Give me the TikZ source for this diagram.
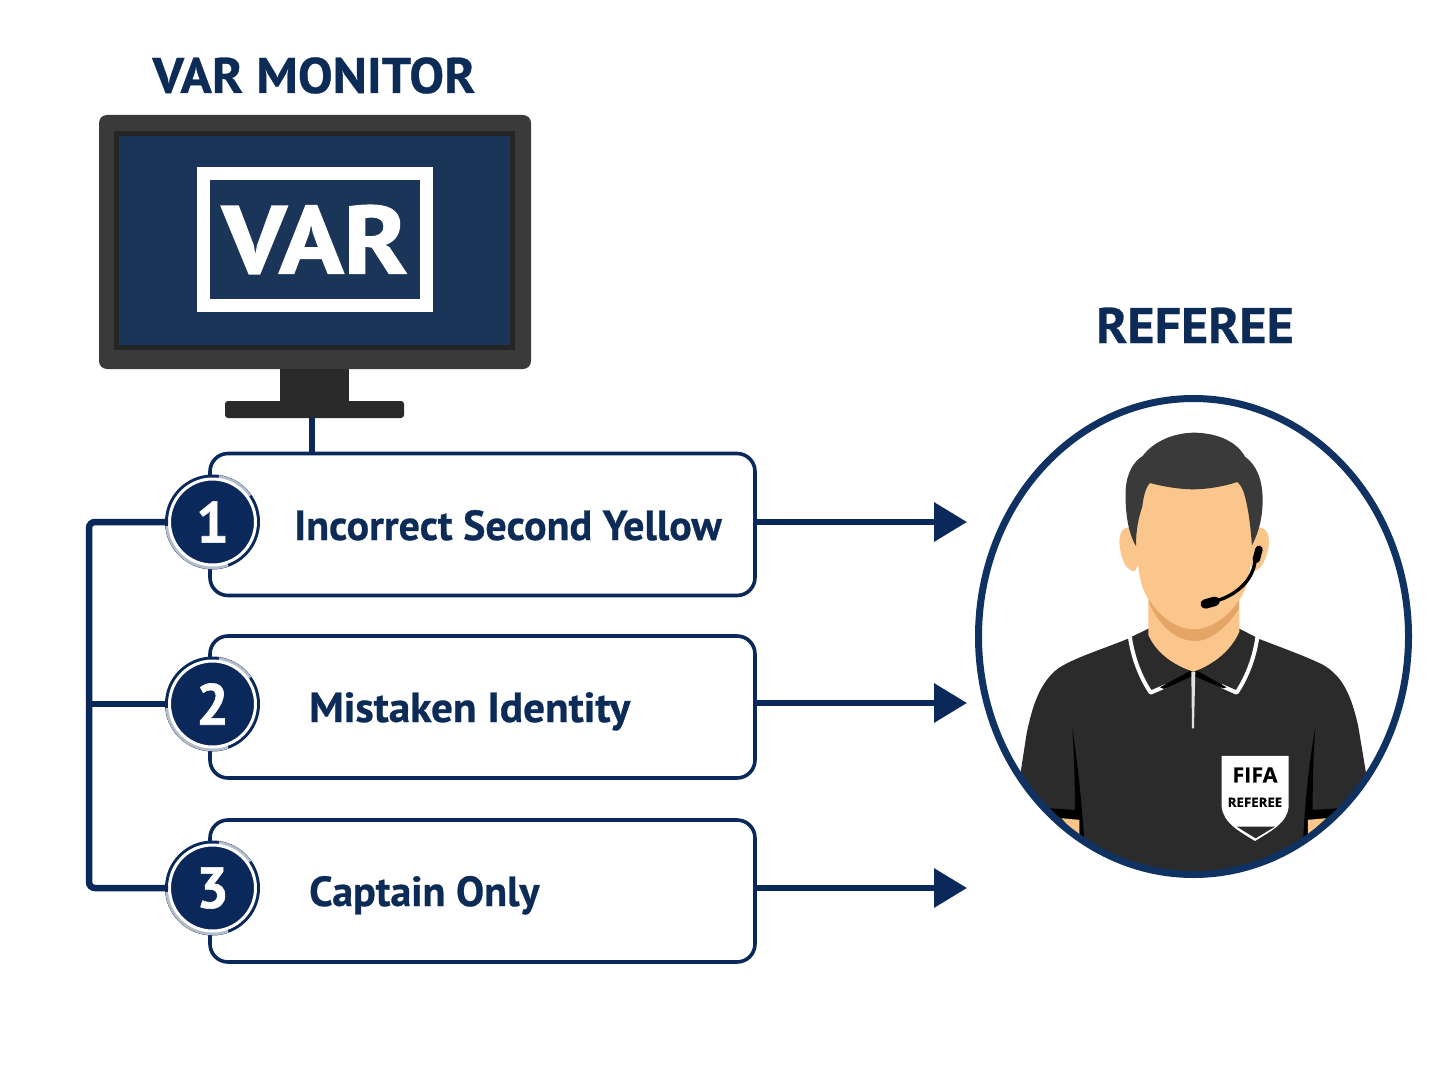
\documentclass[tikz,border=0pt]{standalone}
\usepackage{fontspec}
\setmainfont{PT Sans}
\newfontfamily\labelfont[FakeStretch=1.0,FakeBold=0.6]{PT Sans}
\newfontfamily\labelwide[FakeStretch=1.03,FakeBold=0.6]{PT Sans}
\newfontfamily\titlefont[FakeStretch=1.04,FakeBold=0.6]{PT Sans}
\newfontfamily\varfont[FakeStretch=1.11,FakeBold=1.6]{PT Sans}
\newfontfamily\digitfont[FakeBold=1.0]{PT Sans}
\newfontfamily\badgefont[FakeStretch=1.02,FakeBold=0.4]{Open Sans}
\usetikzlibrary{arrows.meta}
\definecolor{navy}{HTML}{0A2859}
\definecolor{titleblue}{HTML}{0C2B57}
\definecolor{ringblue}{HTML}{0F3263}
\definecolor{screenblue}{HTML}{1B3558}
\definecolor{framegrey}{HTML}{3A3A3A}
\definecolor{bezel}{HTML}{252525}
\definecolor{standgrey}{HTML}{2A2A2A}
\definecolor{silver}{HTML}{B4BECB}
\definecolor{skin}{HTML}{FBC68C}
\definecolor{skinshade}{HTML}{E5A566}
\definecolor{hair}{HTML}{3A3A3A}
\definecolor{shirt}{HTML}{2B2B2B}
\tikzset{
  title/.style={font=\fontsize{50}{52}\selectfont\titlefont\bfseries,text=titleblue,inner sep=0pt,anchor=base},
  optbox/.style={draw=navy,line width=3.6pt,rounded corners=18pt,fill=white,minimum width=545pt,minimum height=142pt,inner sep=0pt},
  optlabel/.style={font=\fontsize{42}{44}\selectfont\labelfont\bfseries,text=titleblue,anchor=base west,inner sep=0pt},
  optlabelwide/.style={optlabel,font=\fontsize{42}{44}\selectfont\labelwide\bfseries},
  numdisc/.style={circle,fill=navy,draw=white,line width=3pt,minimum size=86pt,inner sep=0pt,text=white,font=\fontsize{58}{60}\selectfont\digitfont\bfseries},
  link/.style={draw=navy,line width=6.5pt},
  flow/.style={link,-{Triangle[length=33pt,width=38pt]}},
  ringarc/.style={line width=3.5pt,draw=silver},
  zoomed/.style={shift={(960pt,-390pt)},x=0.3333pt,y=-0.3333pt},
}
\begin{document}
\begin{tikzpicture}[x=1pt,y=-1pt]
\useasboundingbox (0,0) rectangle (1448,1086);
\fill[white] (0,0) rectangle (1448,1086);

% titles
\node[title] (montitle) at (314,93) {VAR MONITOR};
\node[title] (reftitle) at (1195,343) {REFEREE};

% monitor
\fill[standgrey] (280,365) rectangle (349,403);
\node[fill=standgrey,rounded corners=3pt,minimum width=179pt,minimum height=17pt,inner sep=0pt] (monbase) at (314.5,409.5) {};
\fill[framegrey,rounded corners=8pt] (99,115) rectangle (531,369);
\fill[bezel] (114,131) rectangle (515,350);
\fill[screenblue] (119,136) rectangle (510,345);
\node[draw=white,line width=13pt,minimum width=223pt,minimum height=132pt,inner sep=0pt,font=\fontsize{96}{98}\selectfont\varfont\bfseries,text=white] (varbox) at (315,239.5) {VAR};

% option boxes
\node[optbox] (box1) at (482.5,524.5) {};
\node[optbox] (box2) at (482.5,707) {};
\node[optbox] (box3) at (482.5,891) {};
\node[optlabel] (lab1) at (294,540) {Incorrect Second Yellow};
\node[optlabelwide] (lab2) at (309,722) {Mistaken Identity};
\node[optlabel] (lab3) at (309,906) {Captain Only};

% cable from the monitor
\coordinate (cablex) at (312,0);
\draw[link] (monbase.south -| cablex) -- (box1.north -| cablex);

% number discs
\foreach \i/\y in {1/522,2/704,3/888}{
  \fill[navy] (212.5,\y) circle (47.5);
  \draw[ringarc] ([shift={(-35:45.5)}]212.5,\y) arc[start angle=-35,end angle=-82,radius=45.5];
  \draw[ringarc] ([shift={(-185:45.5)}]212.5,\y) arc[start angle=-185,end angle=-290,radius=45.5];
  \node[numdisc] (n\i) at (212.5,\y) {\i};
}

% bus on the left
\coordinate (bus1) at (89,522);
\coordinate (bus2) at (89,704);
\coordinate (bus3) at (89,888);
\draw[link,rounded corners=6pt] (n1.west) -- (bus1) -- (bus3) -- (n3.west);
\draw[link] (bus2) -- (n2.west);

% arrows to the referee
\coordinate (tip1) at (967,522);
\coordinate (tip2) at (967,703);
\coordinate (tip3) at (967,888);
\draw[flow] (box1.east |- tip1) -- (tip1);
\draw[flow] (box2.east |- tip2) -- (tip2);
\draw[flow] (box3.east |- tip3) -- (tip3);

% referee
\begin{scope}
\clip (1193.5,636.5) ellipse [x radius=218,y radius=240];
\begin{scope}[zoomed]
% shirt
\fill[shirt] (500,748) .. controls (420,780) and (340,805) .. (295,835)
  .. controls (235,880) and (215,960) .. (200,1030) -- (180,1160) -- (180,1500) -- (1230,1500) -- (1220,1160)
  -- (1195,1010) .. controls (1175,920) and (1150,860) .. (1090,825)
  .. controls (1040,800) and (970,775) .. (900,748) -- (838,716) -- (565,716) -- cycle;
% sleeves
\fill[black] (337,1015) .. controls (350,1100) and (362,1200) .. (372,1340) -- (358,1340) -- (358,1288) -- (300,1284) -- (270,1255) -- (345,1260) .. controls (345,1180) and (342,1090) .. (337,1015) -- cycle;
\fill[black] (1066,1015) .. controls (1050,1100) and (1038,1200) .. (1030,1340) -- (1044,1340) -- (1044,1288) -- (1100,1284) -- (1135,1255) -- (1058,1260) .. controls (1058,1180) and (1060,1090) .. (1066,1015) -- cycle;
\fill[skin] (305,1285) -- (358,1290) -- (358,1345) -- cycle;
\fill[skin] (1044,1290) -- (1098,1285) -- (1044,1335) -- cycle;
% collar
\draw[white,line width=4pt,line join=round] (510,742) .. controls (518,800) and (540,860) .. (572,908) -- (618,888);
\draw[white,line width=4pt,line join=round] (892,742) .. controls (884,800) and (862,860) .. (830,908) -- (785,888);
\fill[black] (600,892) -- (690,843) -- (712,843) -- (800,892) -- (790,895) -- (706,860) -- (694,860) -- (612,897) -- cycle;
\fill[white!88!black] (694,845) -- (706,845) -- (702,1015) -- (696,1015) -- cycle;
% neck
\fill[skin] (565,620) -- (565,735) .. controls (590,790) and (640,825) .. (700,845) .. controls (760,825) and (815,780) .. (838,725) -- (838,620) -- cycle;
\fill[skinshade] (567,640) .. controls (600,710) and (650,755) .. (710,753) .. controls (760,750) and (810,700) .. (837,655) -- (837,620) -- (567,620) -- cycle;
% ears
\fill[skin] (505,412) .. controls (480,415) and (475,445) .. (480,475) .. controls (485,510) and (500,545) .. (525,543) -- (545,500) -- (535,420) -- cycle;
\fill[skin] (898,412) .. controls (925,415) and (930,445) .. (925,475) .. controls (918,510) and (900,545) .. (880,543) -- (860,500) -- (870,420) -- cycle;
% face
\fill[skin] (530,420) .. controls (530,500) and (535,570) .. (555,610)
  .. controls (590,670) and (640,716) .. (700,718)
  .. controls (765,716) and (815,670) .. (850,610)
  .. controls (870,570) and (878,500) .. (875,420)
  -- (850,250) -- (560,250) -- cycle;
% hair
\fill[hair] (528,468) .. controls (505,430) and (495,370) .. (497,300)
  .. controls (500,250) and (520,215) .. (548,198)
  .. controls (580,155) and (640,128) .. (705,128)
  .. controls (775,130) and (830,155) .. (855,200)
  .. controls (890,225) and (908,270) .. (908,330)
  .. controls (908,385) and (895,430) .. (876,466)
  .. controls (872,420) and (868,370) .. (855,320)
  .. controls (850,300) and (843,285) .. (832,276)
  .. controls (790,290) and (740,298) .. (700,298)
  .. controls (660,298) and (610,290) .. (570,279)
  .. controls (558,290) and (550,320) .. (547,350)
  .. controls (535,385) and (528,420) .. (528,468) -- cycle;
% headset
\draw[black,line width=3.4pt,line cap=round] (885,515) .. controls (878,570) and (830,620) .. (750,638);
\draw[black,line width=7.5pt,line cap=round] (897,478) -- (889,508);
\draw[black,line width=9.5pt,line cap=round] (736,642) -- (765,634);
% badge
\fill[white] (785,1098) -- (986,1098) -- (986,1250) .. controls (982,1300) and (930,1325) .. (885,1353) .. controls (840,1325) and (790,1300) .. (785,1250) -- cycle;
\fill[shirt] (830,1310) -- (945,1310) -- (887,1345) -- cycle;
\node[font=\fontsize{21}{22}\selectfont\badgefont\bfseries,text=black,inner sep=0pt] (fifa) at (885,1155) {FIFA};
\node[font=\fontsize{13}{14}\selectfont\badgefont\bfseries,text=black,inner sep=0pt] (refbadge) at (885,1237) {REFEREE};
\end{scope}
\end{scope}
\draw[ringblue,line width=7pt] (1193.5,636.5) ellipse [x radius=215,y radius=238];
\end{tikzpicture}
\end{document}
